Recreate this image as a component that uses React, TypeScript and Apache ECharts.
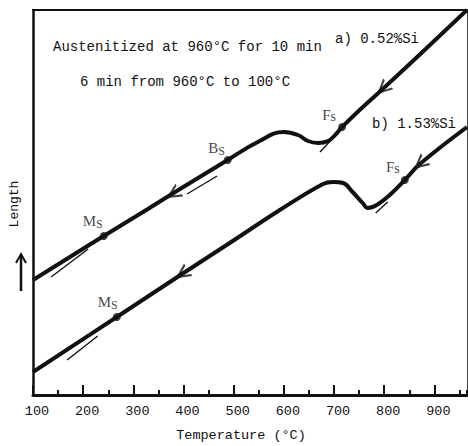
import React, { useEffect, useRef } from "react";
import * as echarts from "echarts";

// Curve a) 0.52%Si  (temperature °C, relative length)
const curveA_T = [100, 241, 329, 393, 488, 548, 600, 628, 648, 668, 688, 704, 716, 751, 797, 855, 965];
const curveA_L = [115, 159, 186, 206, 235, 253, 263, 260, 254, 252, 254, 261, 268, 285, 306, 333, 385];

// Curve b) 1.53%Si
const curveB_T = [100, 267, 397, 492, 592, 678, 698, 718, 737, 757, 767, 785, 811, 841, 871, 965];
const curveB_L = [23, 78, 121, 152, 185, 211, 213, 212, 203, 192, 187, 190, 200, 215, 231, 268];

// Transformation points
const pointNames = ["Ms", "Bs", "Fs", "Ms", "Fs"];
const pointT = [241, 488, 716, 267, 841];
const pointL = [159, 235, 268, 78, 215];

// Cooling direction arrows
const arrowT = [379, 797, 397, 871];
const arrowL = [201, 306, 121, 231];
const arrowAngle = [32, 43, 34, 40];

// Thin tangent (extrapolation) lines
const tangentT1 = [136, 407, 672, 168, 783];
const tangentL1 = [118, 201, 243, 35, 182];
const tangentT2 = [210, 467, 698, 229, 807];
const tangentL2 = [146, 219, 257, 59, 193];

// Axis
const xMin = 100;
const xMax = 965;
const yMin = 0;
const yMax = 385;

const FONT = "'Liberation Mono', 'DejaVu Sans Mono', monospace";
const SERIF = "'Liberation Serif', 'DejaVu Serif', serif";
const INK = "#111";

const labelOffsets: number[][] = [
  [-11, -15],
  [-11, -12],
  [-13, -12],
  [-9, -15],
  [-12, -13],
];

export default function App() {
  const ref = useRef<HTMLDivElement>(null);

  useEffect(() => {
    if (!ref.current) return;
    const chart = echarts.init(ref.current, undefined, { renderer: "svg" });

    const tangentSeries = tangentT1.map((t, i) => ({
      type: "line",
      data: [
        [t, tangentL1[i]],
        [tangentT2[i], tangentL2[i]],
      ],
      symbol: "none",
      lineStyle: { color: INK, width: 1.4 },
      silent: true,
      z: 2,
    }));

    const option: any = {
      animation: false,
      backgroundColor: "#fff",
      grid: { left: 33, right: 1, top: 10, bottom: 51, containLabel: false },
      xAxis: [
        {
          type: "value",
          min: xMin,
          max: xMax,
          interval: 100,
          position: "bottom",
          axisLine: { show: true, lineStyle: { color: INK, width: 3 } },
          axisTick: { show: true, inside: true, length: 10, lineStyle: { color: INK, width: 2 } },
          axisLabel: {
            show: true,
            showMaxLabel: false,
            margin: 9,
            padding: [0, 0, 0, 8],
            color: INK,
            fontFamily: FONT,
            fontSize: 13.5,
            formatter: (v: number) => (v % 100 === 0 ? String(v) : ""),
          },
          splitLine: { show: false },
        },
        {
          type: "value",
          min: xMin,
          max: xMax,
          interval: 50,
          position: "bottom",
          axisLine: { show: false },
          axisTick: { show: true, inside: true, length: 5, lineStyle: { color: INK, width: 2 } },
          axisLabel: { show: false },
          splitLine: { show: false },
        },
        {
          type: "value",
          min: xMin,
          max: xMax,
          position: "top",
          axisLine: { show: true, lineStyle: { color: INK, width: 2 } },
          axisTick: { show: false },
          axisLabel: { show: false },
          splitLine: { show: false },
        },
      ],
      yAxis: [
        {
          type: "value",
          min: yMin,
          max: yMax,
          position: "left",
          axisLine: { show: true, lineStyle: { color: INK, width: 2.5 } },
          axisTick: { show: false },
          axisLabel: { show: false },
          splitLine: { show: false },
        },
        {
          type: "value",
          min: yMin,
          max: yMax,
          position: "right",
          axisLine: { show: true, lineStyle: { color: "#444", width: 1 } },
          axisTick: { show: false },
          axisLabel: { show: false },
          splitLine: { show: false },
        },
      ],
      series: [
        {
          type: "line",
          name: "a) 0.52%Si",
          data: curveA_T.map((t, i) => [t, curveA_L[i]]),
          smooth: 0.45,
          symbol: "none",
          lineStyle: { color: INK, width: 4 },
          z: 3,
        },
        {
          type: "line",
          name: "b) 1.53%Si",
          data: curveB_T.map((t, i) => [t, curveB_L[i]]),
          smooth: 0.4,
          symbol: "none",
          lineStyle: { color: INK, width: 4 },
          z: 3,
        },
        ...tangentSeries,
        {
          type: "scatter",
          data: pointT.map((t, i) => ({
            value: [t, pointL[i]],
            name: pointNames[i],
            label: { offset: labelOffsets[i] },
          })),
          symbol: "circle",
          symbolSize: 8,
          itemStyle: { color: INK },
          z: 4,
          label: {
            show: true,
            position: "inside",
            formatter: (p: any) => {
              const n = p.name as string;
              if (n === "Fs") return "{m|F}{f|s}";
              return "{m|" + n[0] + "}{s|S}";
            },
            rich: {
              m: { fontFamily: SERIF, fontSize: 15, color: INK },
              s: { fontFamily: SERIF, fontSize: 12, color: INK, padding: [5, 0, 0, 0] },
              f: { fontFamily: SERIF, fontSize: 14, color: INK, padding: [3, 0, 0, 0] },
            },
          },
        },
        {
          type: "scatter",
          data: arrowT.map((t, i) => ({
            value: [t, arrowL[i]],
            symbolRotate: arrowAngle[i],
          })),
          symbol: "path://M12,0 L0,6 L12,12 L12,10 L3.5,6 L12,2 Z",
          symbolSize: 15,
          symbolKeepAspect: true,
          itemStyle: { color: INK },
          z: 5,
        },
      ],
      graphic: [
        {
          type: "text",
          left: 53,
          top: 40,
          style: { text: "Austenitized at 960°C for 10 min", fontFamily: FONT, fontSize: 14, fill: INK },
        },
        {
          type: "text",
          left: 80,
          top: 75,
          style: { text: "6 min from 960°C to 100°C", fontFamily: FONT, fontSize: 14, fill: INK },
        },
        {
          type: "text",
          left: 335,
          top: 32,
          style: { text: "a) 0.52%Si", fontFamily: FONT, fontSize: 14, fill: INK },
        },
        {
          type: "text",
          left: 372,
          top: 117,
          style: { text: "b) 1.53%Si", fontFamily: FONT, fontSize: 14, fill: INK },
        },
        {
          type: "text",
          x: 14,
          y: 204,
          rotation: Math.PI / 2,
          style: {
            text: "Length",
            fontFamily: FONT,
            fontSize: 13,
            fill: INK,
            align: "center",
            verticalAlign: "middle",
          },
        },
        {
          type: "line",
          shape: { x1: 21, y1: 291, x2: 21, y2: 256 },
          style: { stroke: INK, lineWidth: 2.5 },
        },
        {
          type: "polyline",
          shape: { points: [[16, 263], [21, 254], [26, 263]] },
          style: { stroke: INK, lineWidth: 2, fill: null },
        },
        {
          type: "text",
          x: 241,
          y: 435,
          style: {
            text: "Temperature (°C)",
            fontFamily: FONT,
            fontSize: 13.5,
            fill: INK,
            align: "center",
            verticalAlign: "middle",
          },
        },
      ],
    };

    chart.setOption(option);
    return () => chart.dispose();
  }, []);

  return (
    <div
      ref={ref}
      style={{ position: "fixed", left: 0, top: 0, width: 468, height: 446, background: "#fff" }}
    />
  );
}
